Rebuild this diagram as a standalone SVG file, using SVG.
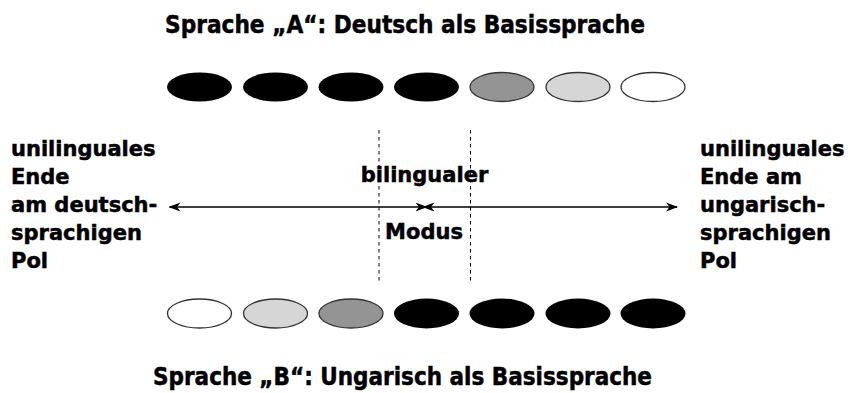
<svg xmlns="http://www.w3.org/2000/svg" width="850" height="393" viewBox="0 0 850 393">
<style>
text{font-family:"DejaVu Sans","Liberation Sans",sans-serif;font-weight:bold;fill:#000;stroke:#000;stroke-width:0.5}
.t{font-size:24px}
.l{font-size:21px}
.blk{fill:#000;stroke:none}
.dg{fill:#949494;stroke:#333;stroke-width:1.3}
.lg{fill:#d6d6d6;stroke:#333;stroke-width:1.3}
.wh{fill:#fff;stroke:#333;stroke-width:1.3}
.ax{stroke:#000;stroke-width:1.5;fill:none}
.dash{stroke:#000;stroke-width:1;stroke-dasharray:3.5 3.5;fill:none}
</style>
<defs>
<marker id="ah" viewBox="0 0 12 10" refX="11" refY="5" markerWidth="12" markerHeight="10" markerUnits="userSpaceOnUse" orient="auto">
<path d="M0,0.5 L12,5 L0,9.5 L3.5,5 Z" fill="#000"/>
</marker>
</defs>
<g id="title-a"><text class="t" x="405" y="33" text-anchor="middle" textLength="480" lengthAdjust="spacingAndGlyphs">Sprache „A“: Deutsch als Basissprache</text></g>
<g id="row-a">
<ellipse class="blk" cx="199.5" cy="87" rx="32.5" ry="14.5"/>
<ellipse class="blk" cx="275.5" cy="87" rx="32.5" ry="14.5"/>
<ellipse class="blk" cx="351" cy="87" rx="32.5" ry="14.5"/>
<ellipse class="blk" cx="426.5" cy="87" rx="32.5" ry="14.5"/>
<ellipse class="dg" cx="502" cy="87" rx="32" ry="14.5"/>
<ellipse class="lg" cx="578" cy="87" rx="32" ry="14.5"/>
<ellipse class="wh" cx="653" cy="87" rx="32" ry="14.5"/>
</g>
<g id="left-label"><text class="l" x="11"><tspan x="11" y="156">unilinguales</tspan><tspan x="11" y="184">Ende</tspan><tspan x="11" y="212">am deutsch-</tspan><tspan x="11" y="240">sprachigen</tspan><tspan x="11" y="268">Pol</tspan></text></g>
<g id="right-label"><text class="l" x="700"><tspan x="700" y="156">unilinguales</tspan><tspan x="700" y="184">Ende am</tspan><tspan x="700" y="212">ungarisch-</tspan><tspan x="700" y="240">sprachigen</tspan><tspan x="700" y="268">Pol</tspan></text></g>
<g id="center-label"><text class="l" x="424.5" y="182" text-anchor="middle">bilingualer</text><text class="l" x="424" y="239" text-anchor="middle">Modus</text></g>
<g id="connectors">
<line class="dash" x1="379" y1="130" x2="379" y2="282"/>
<line class="dash" x1="470.5" y1="130" x2="470.5" y2="282"/>
<line class="ax" x1="423.5" y1="207" x2="169.5" y2="207" marker-start="url(#ah)" marker-end="url(#ah)"/>
<line class="ax" x1="426.5" y1="207" x2="677" y2="207" marker-start="url(#ah)" marker-end="url(#ah)"/>
</g>
<g id="row-b">
<ellipse class="wh" cx="199.5" cy="313.5" rx="32" ry="14.5"/>
<ellipse class="lg" cx="275.5" cy="313.5" rx="32" ry="14.5"/>
<ellipse class="dg" cx="351" cy="313.5" rx="32" ry="14.5"/>
<ellipse class="blk" cx="426.5" cy="313.5" rx="32.5" ry="15"/>
<ellipse class="blk" cx="502" cy="313.5" rx="32.5" ry="15"/>
<ellipse class="blk" cx="578" cy="313.5" rx="32.5" ry="15"/>
<ellipse class="blk" cx="653" cy="313.5" rx="32.5" ry="15"/>
</g>
<g id="title-b"><text class="t" x="402.5" y="385" text-anchor="middle" textLength="499" lengthAdjust="spacingAndGlyphs">Sprache „B“: Ungarisch als Basissprache</text></g>
</svg>
